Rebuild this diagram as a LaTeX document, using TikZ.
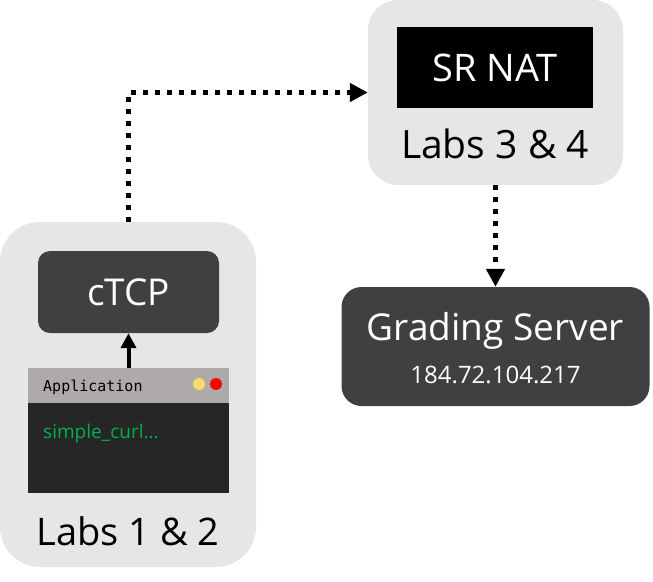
\documentclass[tikz,border=0pt]{standalone}
\usepackage{fontspec}
\setmainfont{Open Sans}
\setmonofont{DejaVu Sans Mono}
\usetikzlibrary{arrows.meta}
\definecolor{labgrey}{HTML}{E6E6E6}
\definecolor{boxdark}{HTML}{404040}
\definecolor{termbg}{HTML}{262626}
\definecolor{titlebar}{HTML}{ADAAA9}
\definecolor{termgreen}{HTML}{00B050}
\definecolor{dotyellow}{HTML}{FFD966}

\begin{document}
\begin{tikzpicture}[x=1pt, y=-1pt,
    lab/.style={rectangle, fill=labgrey, inner sep=0pt},
    dotlink/.style={line width=5pt, dash pattern=on 5pt off 7pt, -{Triangle[length=18pt, width=18pt]}},
    bigtext/.style={inner sep=0pt, anchor=base}]
      \useasboundingbox (0,0) rectangle (653,581);

      % lab containers
      \node[lab, rounded corners=40pt, minimum width=256pt, minimum height=345pt] (lab12) at (128,394.5) {};
      \node[lab, rounded corners=30pt, minimum width=255pt, minimum height=185pt] (lab34) at (495.5,92.5) {};

      \node[rectangle, rounded corners=12pt, fill=boxdark, text=white, minimum width=181pt, minimum height=82pt,
            font=\fontsize{37}{41}\selectfont] (ctcp) at (128.5,292) {cTCP};
      \node[rectangle, fill=black, text=white, minimum width=196pt, minimum height=81pt,
            font=\fontsize{38}{42}\selectfont] (srnat) at (495,67.5) {SR NAT};
      \node[bigtext, font=\fontsize{39}{43}\selectfont] (lab34text) at (495,158) {Labs 3 \& 4};
      \node[bigtext, font=\fontsize{38}{42}\selectfont] (lab12text) at (128,545) {Labs 1 \& 2};

      % application window
      \node[rectangle, fill=termbg, minimum width=201pt, minimum height=125pt, inner sep=0pt] (app) at (128.5,430.5) {};
      \node[rectangle, fill=titlebar, minimum width=201pt, minimum height=35pt, inner sep=0pt] (appbar) at (128.5,385.5) {};
      \node[anchor=base west, inner sep=0pt, font=\ttfamily\fontsize{15}{18}\selectfont] (apptitle) at (43,391) {Application};
      \node[circle, fill=dotyellow, inner sep=0pt, minimum size=12pt] (ydot) at (199,384) {};
      \node[circle, fill=red, inner sep=0pt, minimum size=12pt] (rdot) at (216,384) {};
      \node[anchor=base west, inner sep=0pt, text=termgreen, font=\fontsize{19}{22}\selectfont] (cmd) at (43,438) {simple\_curl...};

      % grading server
      \node[rectangle, rounded corners=20pt, fill=boxdark, minimum width=308pt, minimum height=119pt] (server) at (495.5,346.5) {};
      \node[bigtext, text=white, font=\fontsize{37}{41}\selectfont] (servername) at (495.5,340) {Grading Server};
      \node[bigtext, text=white, font=\fontsize{24}{28}\selectfont] (serverip) at (495.5,383) {184.72.104.217};

      \draw[line width=4pt, -{Triangle[length=15pt, width=15pt]}] (appbar.north) -- (ctcp.south);
      \draw[dotlink] (lab12.north) |- (lab34.west);
      \draw[dotlink] (lab34.south) -- (server.north);
\end{tikzpicture}
\end{document}
